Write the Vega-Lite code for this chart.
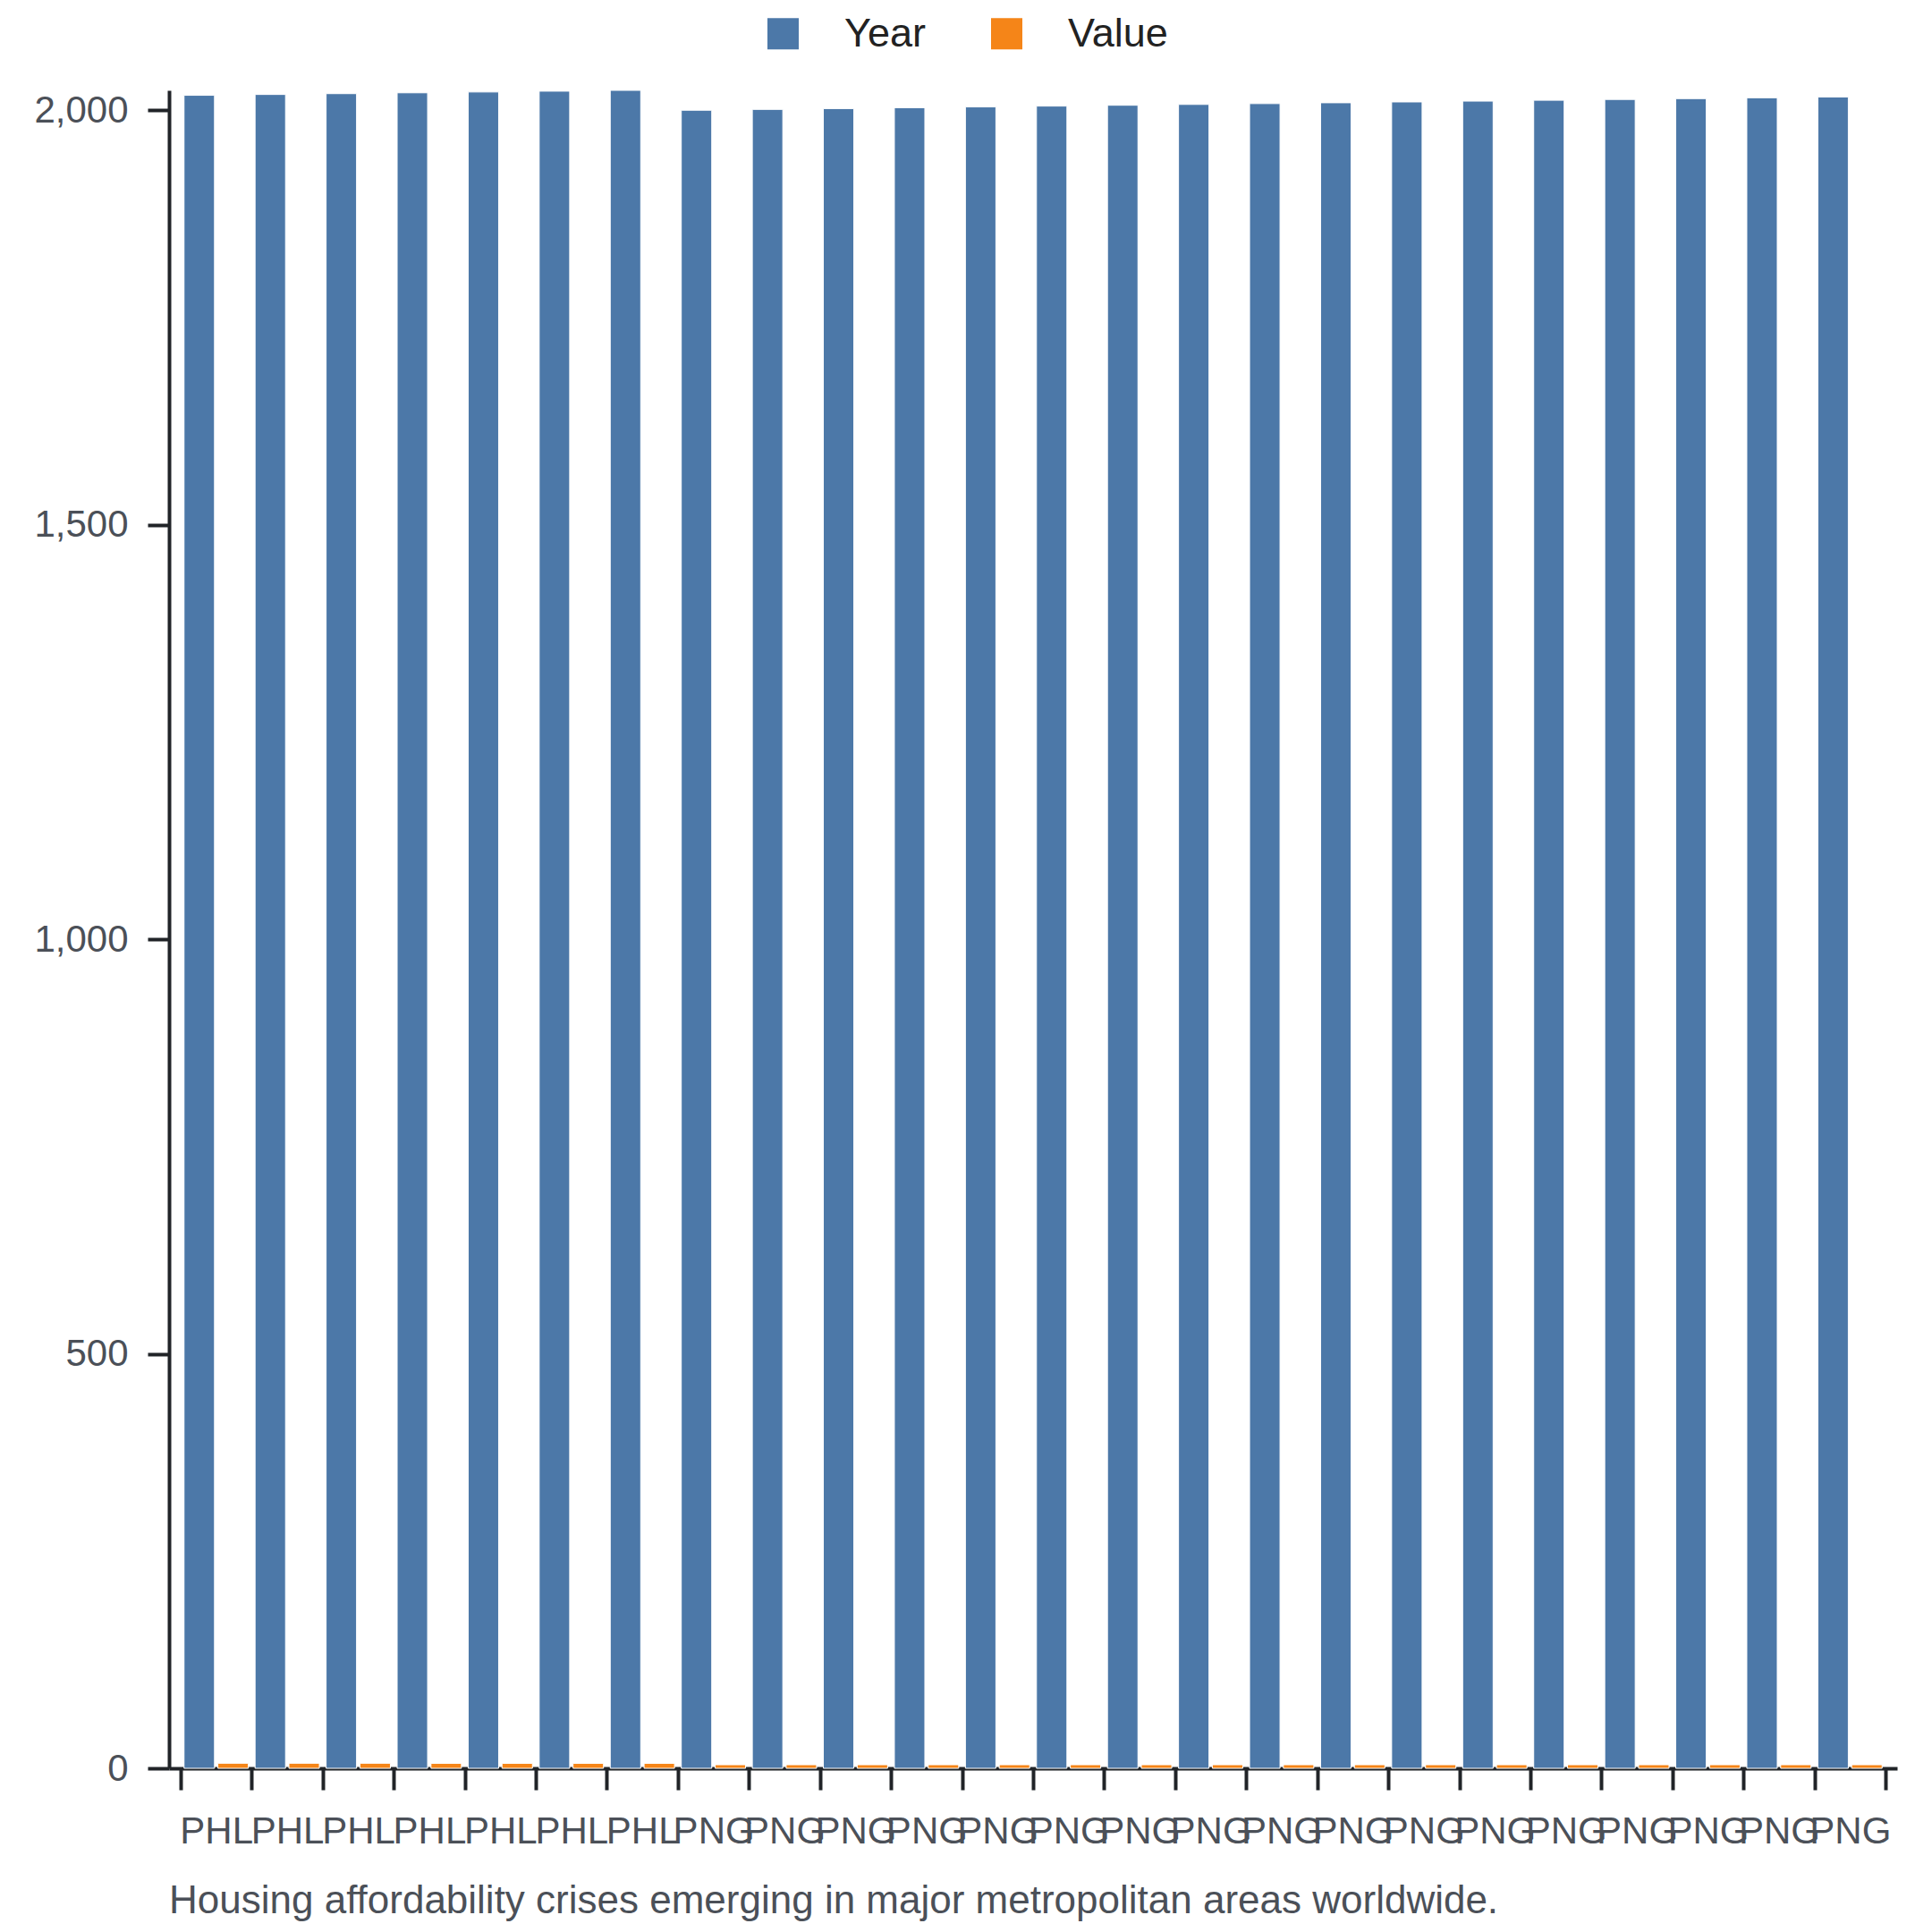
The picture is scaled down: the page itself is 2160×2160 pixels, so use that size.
{
  "$schema": "https://vega.github.io/schema/vega-lite/v6.json",
  "width": 1932,
  "height": 1876,
  "padding": {"left": 37, "top": 15, "right": 40, "bottom": 10},
  "title": {
    "text": "Housing affordability crises emerging in major metropolitan areas worldwide.",
    "orient": "bottom",
    "anchor": "start",
    "frame": "group",
    "fontSize": 44,
    "fontWeight": "normal",
    "color": "#4b5058",
    "offset": 36
  },
  "data": {
    "values": [
      {"id": "PHL-2018", "country": "PHL", "series": "Year", "amount": 2018},
      {"id": "PHL-2018", "country": "PHL", "series": "Value", "amount": 6.1},
      {"id": "PHL-2019", "country": "PHL", "series": "Year", "amount": 2019},
      {"id": "PHL-2019", "country": "PHL", "series": "Value", "amount": 6.1},
      {"id": "PHL-2020", "country": "PHL", "series": "Year", "amount": 2020},
      {"id": "PHL-2020", "country": "PHL", "series": "Value", "amount": 6.1},
      {"id": "PHL-2021", "country": "PHL", "series": "Year", "amount": 2021},
      {"id": "PHL-2021", "country": "PHL", "series": "Value", "amount": 6.0},
      {"id": "PHL-2022", "country": "PHL", "series": "Year", "amount": 2022},
      {"id": "PHL-2022", "country": "PHL", "series": "Value", "amount": 6.0},
      {"id": "PHL-2023", "country": "PHL", "series": "Year", "amount": 2023},
      {"id": "PHL-2023", "country": "PHL", "series": "Value", "amount": 6.0},
      {"id": "PHL-2024", "country": "PHL", "series": "Year", "amount": 2024},
      {"id": "PHL-2024", "country": "PHL", "series": "Value", "amount": 6.0},
      {"id": "PNG-2000", "country": "PNG", "series": "Year", "amount": 2000},
      {"id": "PNG-2000", "country": "PNG", "series": "Value", "amount": 4.3},
      {"id": "PNG-2001", "country": "PNG", "series": "Year", "amount": 2001},
      {"id": "PNG-2001", "country": "PNG", "series": "Value", "amount": 4.3},
      {"id": "PNG-2002", "country": "PNG", "series": "Year", "amount": 2002},
      {"id": "PNG-2002", "country": "PNG", "series": "Value", "amount": 4.3},
      {"id": "PNG-2003", "country": "PNG", "series": "Year", "amount": 2003},
      {"id": "PNG-2003", "country": "PNG", "series": "Value", "amount": 4.3},
      {"id": "PNG-2004", "country": "PNG", "series": "Year", "amount": 2004},
      {"id": "PNG-2004", "country": "PNG", "series": "Value", "amount": 4.3},
      {"id": "PNG-2005", "country": "PNG", "series": "Year", "amount": 2005},
      {"id": "PNG-2005", "country": "PNG", "series": "Value", "amount": 4.3},
      {"id": "PNG-2006", "country": "PNG", "series": "Year", "amount": 2006},
      {"id": "PNG-2006", "country": "PNG", "series": "Value", "amount": 4.3},
      {"id": "PNG-2007", "country": "PNG", "series": "Year", "amount": 2007},
      {"id": "PNG-2007", "country": "PNG", "series": "Value", "amount": 4.3},
      {"id": "PNG-2008", "country": "PNG", "series": "Year", "amount": 2008},
      {"id": "PNG-2008", "country": "PNG", "series": "Value", "amount": 4.3},
      {"id": "PNG-2009", "country": "PNG", "series": "Year", "amount": 2009},
      {"id": "PNG-2009", "country": "PNG", "series": "Value", "amount": 4.3},
      {"id": "PNG-2010", "country": "PNG", "series": "Year", "amount": 2010},
      {"id": "PNG-2010", "country": "PNG", "series": "Value", "amount": 4.3},
      {"id": "PNG-2011", "country": "PNG", "series": "Year", "amount": 2011},
      {"id": "PNG-2011", "country": "PNG", "series": "Value", "amount": 4.3},
      {"id": "PNG-2012", "country": "PNG", "series": "Year", "amount": 2012},
      {"id": "PNG-2012", "country": "PNG", "series": "Value", "amount": 4.3},
      {"id": "PNG-2013", "country": "PNG", "series": "Year", "amount": 2013},
      {"id": "PNG-2013", "country": "PNG", "series": "Value", "amount": 4.3},
      {"id": "PNG-2014", "country": "PNG", "series": "Year", "amount": 2014},
      {"id": "PNG-2014", "country": "PNG", "series": "Value", "amount": 4.3},
      {"id": "PNG-2015", "country": "PNG", "series": "Year", "amount": 2015},
      {"id": "PNG-2015", "country": "PNG", "series": "Value", "amount": 4.3},
      {"id": "PNG-2016", "country": "PNG", "series": "Year", "amount": 2016},
      {"id": "PNG-2016", "country": "PNG", "series": "Value", "amount": 4.3}
    ]
  },
  "mark": {"type": "bar", "stroke": "white", "strokeWidth": 1},
  "encoding": {
    "x": {
      "field": "id",
      "type": "nominal",
      "scale": {"paddingInner": 0, "paddingOuter": 0.1635},
      "axis": {
        "title": null,
        "labelAngle": 0,
        "labelExpr": "slice(datum.label, 0, 3)",
        "tickBand": "extent",
        "labelFontSize": 42,
        "labelPadding": 26
      }
    },
    "xOffset": {
      "field": "series",
      "type": "nominal",
      "scale": {"domain": ["Year", "Value"], "paddingInner": 0.1, "paddingOuter": 0.1}
    },
    "y": {
      "field": "amount",
      "type": "quantitative",
      "scale": {"nice": false, "zero": true},
      "axis": {
        "title": null,
        "tickCount": 5,
        "labelFontSize": 42,
        "labelPadding": 22,
        "grid": false
      }
    },
    "color": {
      "field": "series",
      "type": "nominal",
      "scale": {"domain": ["Year", "Value"], "range": ["#4c78a8", "#f58518"]},
      "legend": {
        "title": null,
        "orient": "none",
        "legendX": 664,
        "legendY": -86,
        "direction": "horizontal",
        "symbolType": "square",
        "symbolSize": 1225,
        "symbolStrokeWidth": 0,
        "labelFontSize": 45,
        "labelColor": "#222222",
        "labelOffset": 46,
        "columnPadding": 68
      }
    }
  },
  "config": {
    "font": "Liberation Sans",
    "view": {"stroke": null},
    "axis": {
      "domainColor": "#212428",
      "domainWidth": 4,
      "tickColor": "#212428",
      "tickWidth": 4,
      "tickSize": 24,
      "labelColor": "#4b5058",
      "labelFont": "Liberation Sans"
    }
  }
}
